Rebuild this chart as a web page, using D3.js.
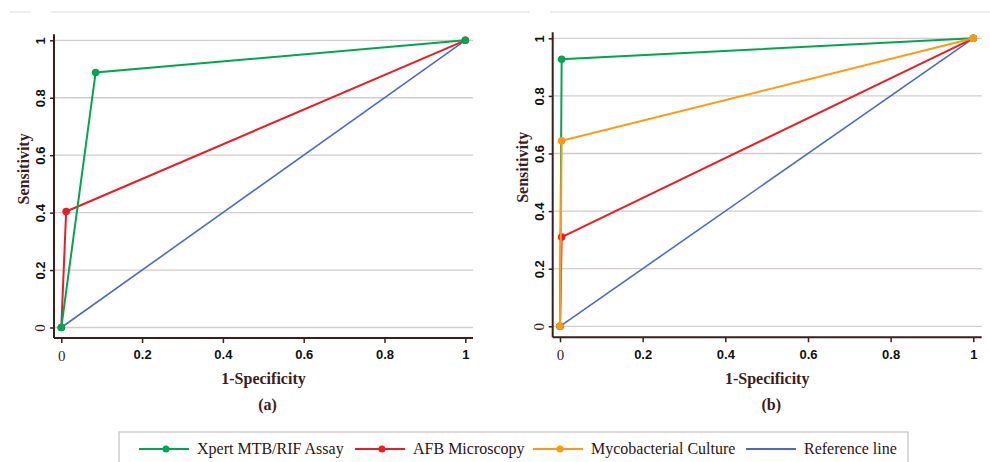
<!DOCTYPE html>
<html>
  <head>
    <meta charset="utf-8">
    <title>ROC curves</title>
    <script src="https://d3js.org/d3.v7.min.js"></script>
    <style>
      body { margin: 0; background: #fff; }
      svg { display: block; }
      .tick text { font-family: "Liberation Sans", Arial, sans-serif; font-weight: bold; font-size: 13px; fill: #111; }
      .tick text.zero { font-family: "Liberation Serif", serif; font-weight: normal; font-size: 15px; fill: #3d1c1c; }
      .title { font-family: "Liberation Serif", serif; font-size: 16px; fill: #3d1c1c; font-weight: bold; }
      .legend text { font-family: "Liberation Serif", serif; font-size: 16px; fill: #2a1414; }
    </style>
  </head>
  <body>
    <div id="chart"></div>
    <script>
      // series names and colours
      var seriesNames = ["Xpert MTB/RIF Assay", "AFB Microscopy", "Mycobacterial Culture", "Reference line"];
      var seriesColours = ["#00a651", "#ec1c24", "#ff9a0f", "#4a6cc0"];
      var ticks = [0, 0.2, 0.4, 0.6, 0.8, 1];
      var tickLabels = ["0", "0.2", "0.4", "0.6", "0.8", "1"];

      // panel (a): [1-specificity, sensitivity]
      var aXpert = [[0, 0], [0.085, 0.888], [1, 1]];
      var aAfb = [[0, 0], [0.012, 0.404], [1, 1]];
      var aRef = [[0, 0], [1, 1]];

      // panel (b)
      var bXpert = [[0, 0], [0.004, 0.927], [1, 1]];
      var bAfb = [[0, 0], [0.004, 0.31], [1, 1]];
      var bCulture = [[0, 0], [0.004, 0.644], [1, 1]];
      var bRef = [[0, 0], [1, 1]];

      var width = 990, height = 462;
      var svg = d3.select("#chart").append("svg")
        .attr("width", width)
        .attr("height", height);

      // faint line at the very top
      svg.append("path")
        .attr("d", "M10,12H31M51,12H530M550,12H990")
        .attr("stroke", "#ddd")
        .attr("stroke-width", 1);

      var panels = [
        { label: "(a)", x0: 61.3, x1: 465.3, y0: 327.5, y1: 40.3, axisX: 54, axisY: 338, gridEnd: 473,
          series: [
            { data: aRef, c: 3, marks: false },
            { data: aAfb, c: 1, marks: true },
            { data: aXpert, c: 0, marks: true }
          ] },
        { label: "(b)", x0: 560, x1: 973.3, y0: 326.3, y1: 38.3, axisX: 552.7, axisY: 337.3, gridEnd: 981.7,
          series: [
            { data: bRef, c: 3, marks: false },
            { data: bAfb, c: 1, marks: true },
            { data: bXpert, c: 0, marks: true },
            { data: bCulture, c: 2, marks: true }
          ] }
      ];

      panels.forEach(function(p) {
        var x = d3.scaleLinear().domain([0, 1]).range([p.x0, p.x1]);
        var y = d3.scaleLinear().domain([0, 1]).range([p.y0, p.y1]);
        var g = svg.append("g");

        // gridlines
        g.selectAll(".grid")
          .data(ticks)
          .enter().append("line")
            .attr("x1", p.axisX)
            .attr("x2", p.gridEnd)
            .attr("y1", function(d) { return y(d); })
            .attr("y2", function(d) { return y(d); })
            .attr("stroke", "#d2cccc")
            .attr("stroke-width", 1.3);

        // y axis
        var yAxis = g.append("g")
          .attr("transform", "translate(" + p.axisX + ",0)")
          .call(d3.axisLeft(y).tickValues(ticks).tickFormat(function(d, i) { return tickLabels[i]; }).tickSize(4).tickSizeOuter(0));
        yAxis.select(".domain").attr("stroke", "#3b1e1e").attr("stroke-width", 2)
          .attr("d", "M0," + (p.y1 - 6) + "V" + p.axisY);
        yAxis.selectAll(".tick line").attr("stroke", "#3b1e1e").attr("stroke-width", 1.5);
        yAxis.selectAll(".tick text")
          .attr("transform", "rotate(-90)")
          .attr("x", 0).attr("y", -9)
          .attr("dy", 0)
          .attr("text-anchor", "middle")
          .classed("zero", function(d) { return d === 0; });

        // x axis
        var xAxis = g.append("g")
          .attr("transform", "translate(0," + p.axisY + ")")
          .call(d3.axisBottom(x).tickValues(ticks).tickFormat(function(d, i) { return tickLabels[i]; }).tickSize(5).tickSizeOuter(0));
        xAxis.select(".domain").attr("stroke", "#3b1e1e").attr("stroke-width", 2)
          .attr("d", "M" + p.axisX + ",0H" + p.gridEnd);
        xAxis.selectAll(".tick line").attr("stroke", "#3b1e1e").attr("stroke-width", 1.5);
        xAxis.selectAll(".tick text")
          .attr("y", 12)
          .classed("zero", function(d) { return d === 0; });

        // titles
        var cx = (p.axisX + p.gridEnd) / 2;
        g.append("text").attr("class", "title")
          .attr("x", cx).attr("y", 384)
          .attr("text-anchor", "middle")
          .text("1-Specificity");
        g.append("text").attr("class", "title")
          .attr("x", cx + 4).attr("y", 410)
          .attr("text-anchor", "middle")
          .text(p.label);
        g.append("text").attr("class", "title")
          .attr("transform", "translate(" + (p.axisX - 25) + "," + ((p.y0 + p.y1) / 2 - 15) + ") rotate(-90)")
          .attr("text-anchor", "middle")
          .text("Sensitivity");

        // ROC lines
        var line = d3.line()
          .x(function(d) { return x(d[0]); })
          .y(function(d) { return y(d[1]); });
        p.series.forEach(function(s) {
          g.append("path")
            .datum(s.data)
            .attr("d", line)
            .attr("fill", "none")
            .attr("stroke", seriesColours[s.c])
            .attr("stroke-width", s.c === 3 ? 1.6 : 2);
          if (s.marks) {
            g.selectAll(null)
              .data(s.data)
              .enter().append("circle")
                .attr("cx", function(d) { return x(d[0]); })
                .attr("cy", function(d) { return y(d[1]); })
                .attr("r", 3.8)
                .attr("fill", seriesColours[s.c]);
          }
        });
      });

      // legend
      var legend = svg.append("g").attr("class", "legend");
      legend.append("rect")
        .attr("x", 119).attr("y", 432)
        .attr("width", 789).attr("height", 40)
        .attr("fill", "#fff")
        .attr("stroke", "#c8c0c0")
        .attr("stroke-width", 1.2);
      var legendX = [139, 355, 533, 746];
      seriesNames.forEach(function(name, i) {
        var lg = legend.append("g").attr("transform", "translate(" + legendX[i] + ",449)");
        lg.append("line")
          .attr("x1", 0).attr("x2", 50)
          .attr("stroke", seriesColours[i])
          .attr("stroke-width", 2.2);
        if (i < 3) {
          lg.append("circle").attr("cx", 27).attr("r", 3.5).attr("fill", seriesColours[i]);
        }
        lg.append("text")
          .attr("x", 58).attr("y", 5)
          .text(name);
      });
    </script>
  </body>
</html>
